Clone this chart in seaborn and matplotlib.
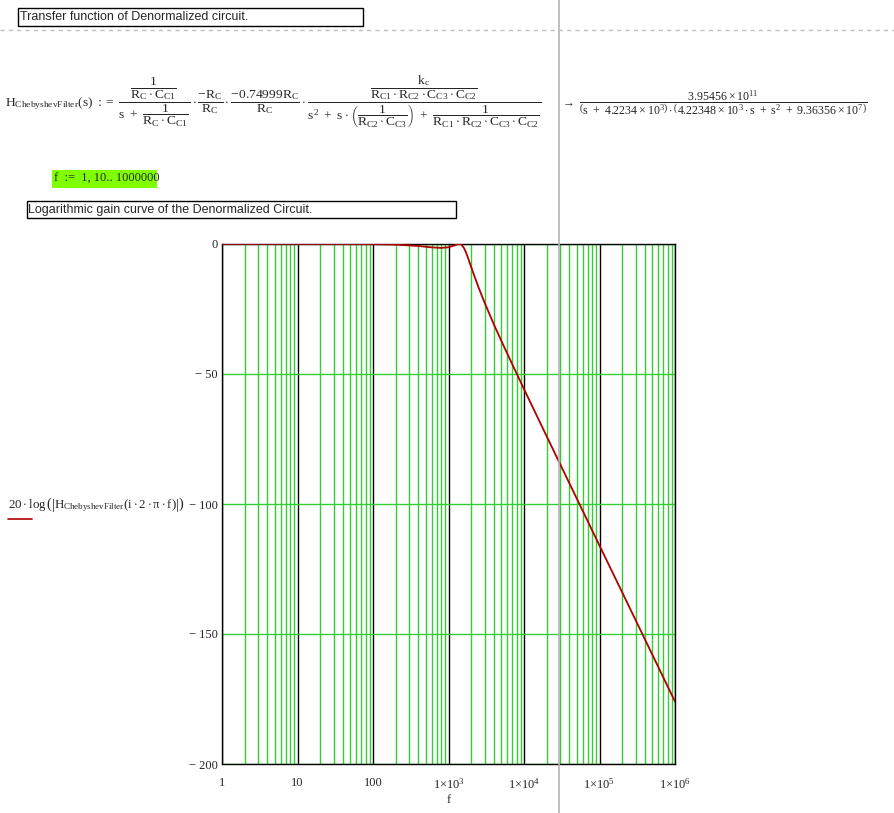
import numpy as np
import pandas as pd
import matplotlib
matplotlib.use("Agg")
import matplotlib.pyplot as plt
import seaborn as sns
from matplotlib.patches import Rectangle
from matplotlib.lines import Line2D
from matplotlib.ticker import FixedLocator, LogLocator, NullFormatter

# ---- data (frequency in Hz, gain in dB) ----
freq = [1, 10, 100, 200, 400, 600, 800, 1000, 1200, 1300, 1400, 1450, 1500, 1600,
        1700, 1800, 2000, 2500, 3000, 4000, 5000, 7000, 1e4, 2e4, 5e4, 1e5, 2e5,
        5e5, 1e6]
gain_db = [0.0, 0.0, -0.06, -0.24, -0.77, -1.29, -1.50, -1.25, -0.53, -0.15, -0.01,
           -0.12, -0.40, -1.50, -3.16, -5.08, -8.93, -16.7, -22.5, -31.0, -37.2,
           -46.3, -55.8, -74.0, -97.9, -116.0, -134.0, -157.9, -176.0]
x_ticks = [1, 10, 100, 1e3, 1e4, 1e5, 1e6]
x_tick_labels = ["1", "10", "100", r"$1{\times}10^{3}$", r"$1{\times}10^{4}$",
                 r"$1{\times}10^{5}$", r"$1{\times}10^{6}$"]
y_ticks = [0, -50, -100, -150, -200]
y_tick_labels = ["0", "\u2212 50", "\u2212 100", "\u2212 150", "\u2212 200"]

sns.set_style("white")
plt.rcParams["font.family"] = ["Liberation Serif", "DejaVu Serif"]
plt.rcParams["mathtext.fontset"] = "custom"
plt.rcParams["mathtext.rm"] = "Liberation Serif"
plt.rcParams["mathtext.it"] = "Liberation Serif"
plt.rcParams["mathtext.bf"] = "Liberation Serif:bold"

W, H = 894, 813
fig = plt.figure(figsize=(W / 100, H / 100), dpi=100)
fig.patch.set_facecolor("white")

def fx(px):
    return px / W

def fy(py):
    return 1 - py / H

GREEN = "#33cc33"
RED = "#b00000"

# page break lines
fig.add_artist(Line2D([fx(559), fx(559)], [0, 1], color="#b4b4b4", lw=1.2))
fig.add_artist(Line2D([0, 1], [fy(30), fy(30)], color="#c0c0c0", lw=1.0,
                      ls=(0, (3, 3))))

# text boxes
fig.add_artist(Rectangle((fx(18), fy(26)), fx(363) - fx(18), fy(8) - fy(26),
                         fill=False, ec="black", lw=1.0))
fig.text(fx(20), fy(17.5), "Transfer function of Denormalized circuit.",
         family="Liberation Sans", fontsize=9, va="center", ha="left")

fig.add_artist(Rectangle((fx(27), fy(218)), fx(456) - fx(27), fy(201) - fy(218),
                         fill=False, ec="black", lw=1.0))
fig.text(fx(28), fy(209.5), "Logarithmic gain curve of the Denormalized Circuit.",
         family="Liberation Sans", fontsize=9, va="center", ha="left")

fig.add_artist(Rectangle((fx(52), fy(188)), fx(157) - fx(52), fy(170) - fy(188),
                         fill=True, fc="#80ff00", ec="none"))
fig.text(fx(54), fy(179), "f  :=  1, 10.. 1000000", fontsize=9, va="center",
         ha="left")

# equations
eq = (r"$\mathrm{H}_{\mathrm{ChebyshevFilter}}(s)\ {:}{=}\ "
      r"\dfrac{\dfrac{1}{R_C \cdot C_{C1}}}{s\ +\ \dfrac{1}{R_C \cdot C_{C1}}}\cdot"
      r"\dfrac{-R_C}{R_C}\cdot\dfrac{-0.74999R_C}{R_C}\cdot"
      r"\dfrac{\dfrac{k_c}{R_{C1}\cdot R_{C2}\cdot C_{C3}\cdot C_{C2}}}"
      r"{s^2\ +\ s\cdot\left(\dfrac{1}{R_{C2}\cdot C_{C3}}\right)\ +\ "
      r"\dfrac{1}{R_{C1}\cdot R_{C2}\cdot C_{C3}\cdot C_{C2}}}$")
fig.text(fx(5), fy(102), eq, fontsize=9.7, va="center", ha="left")

eq2 = (r"$\rightarrow\ \dfrac{3.95456\times10^{11}}"
       r"{\left(s\ +\ 4.2234\times10^{3}\right)\cdot\left(4.22348\times10^{3}\cdot s"
       r"\ +\ s^{2}\ +\ 9.36356\times10^{7}\right)}$")
fig.text(fx(561), fy(103), eq2, fontsize=8.6, va="center", ha="left")

# ---- plot ----
ax = fig.add_axes([fx(222), fy(764), fx(675) - fx(222), fy(244) - fy(764)])
df = pd.DataFrame({"f": freq, "gain": gain_db})
sns.lineplot(data=df, x="f", y="gain", ax=ax, color=RED, lw=1.3, sort=False,
             estimator=None, zorder=5)
ax.set_xscale("log")
ax.set_xlim(1, 1e6)
ax.set_ylim(-200, 0)

ax.xaxis.set_major_locator(FixedLocator(x_ticks))
ax.set_xticks(x_ticks)
ax.set_xticklabels(x_tick_labels)
ax.xaxis.set_minor_locator(LogLocator(base=10, subs=np.arange(2, 10), numticks=100))
ax.xaxis.set_minor_formatter(NullFormatter())
ax.set_yticks(y_ticks)
ax.set_yticklabels(y_tick_labels)

ax.grid(False)
ax.grid(True, which="minor", axis="x", color=GREEN, lw=1.0)
ax.grid(True, which="major", axis="x", color="black", lw=1.0)
ax.grid(True, which="major", axis="y", color=GREEN, lw=1.0)
ax.set_axisbelow(True)

ax.tick_params(axis="both", which="both", length=0)
ax.tick_params(axis="x", pad=9, labelsize=9)
ax.tick_params(axis="y", pad=3, labelsize=9)
for s in ax.spines.values():
    s.set_color("black")
    s.set_linewidth(1.0)

ax.set_xlabel("f", fontsize=9, labelpad=2)
ax.set_ylabel("")

# y-axis label (expression) and its legend line
ylab = (r"$20\cdot\log\left(\left|\mathrm{H}_{\mathrm{ChebyshevFilter}}"
        r"(i\cdot 2\cdot\pi\cdot f)\right|\right)$")
fig.text(fx(8), fy(504), ylab, fontsize=9.3, va="center", ha="left")
fig.add_artist(Line2D([fx(8), fx(32)], [fy(519), fy(519)], color=RED, lw=1.2))

fig.savefig("out.png", dpi=100, facecolor="white")
